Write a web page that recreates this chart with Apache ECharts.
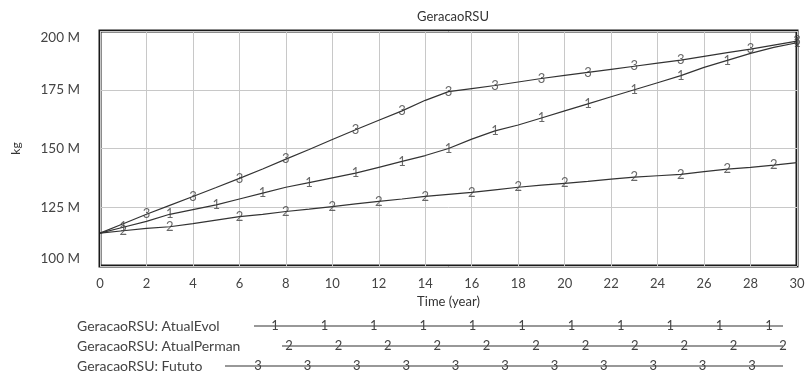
<!DOCTYPE html>
<html>
<head>
<meta charset="utf-8">
<script src="https://cdn.jsdelivr.net/npm/echarts@6/dist/echarts.min.js"></script>
<style>
  html, body { margin: 0; padding: 0; background: #fff; }
  #chart { width: 808px; height: 378px; }
</style>
</head>
<body>
<div id="chart"></div>
<script>
// years 0..30, values in millions of kg
let years = [];
for (let t = 0; t <= 30; t++) years.push(t);

let atualEvol = [114, 116.5, 119, 122, 124, 126, 128.5, 131, 133.5, 135.5, 137.5,
  139.5, 142, 144.5, 147, 150, 154, 157.5, 160, 163, 166,
  169, 172, 175, 178, 181, 184.5, 187.5, 190.5, 193, 195];
let atualPerman = [114, 115, 116, 116.7, 118, 119.5, 121, 122, 123.2, 124.2, 125.3,
  126.4, 127.5, 128.5, 129.6, 130.5, 131.3, 132.4, 133.5, 134.4, 135.2,
  136, 137, 137.8, 138.4, 139, 140.2, 141.2, 142, 142.9, 144];
let futuro = [114, 118, 122, 125.8, 129.6, 133.4, 137.3, 141.3, 145.5, 149.6, 153.8,
  158, 162, 166, 170.5, 174.2, 175.5, 176.8, 178.3, 179.8, 181.1,
  182.4, 183.7, 185, 186.3, 187.6, 189.2, 190.8, 192.3, 194, 195.7];

// years where the numbered markers sit
let evolMarks = [1, 3, 5, 7, 9, 11, 13, 15, 17, 19, 21, 23, 25, 27, 30];
let permanMarks = [1, 3, 6, 8, 10, 12, 14, 16, 18, 20, 23, 25, 27, 29];
let futuroMarks = [2, 4, 6, 8, 11, 13, 15, 17, 19, 21, 23, 25, 28, 30];

let legendNames = ['GeracaoRSU: AtualEvol', 'GeracaoRSU: AtualPerman', 'GeracaoRSU: Fututo'];

const FONT = 'Lato';
const INK = '#333';

function lineSeries(name, vals) {
  return {
    name: name,
    type: 'line',
    data: years.map((t, i) => [t, vals[i]]),
    showSymbol: false,
    symbol: 'none',
    lineStyle: { color: INK, width: 1.2 },
    z: 3
  };
}

function markSeries(name, vals, marks, digit) {
  return {
    name: name + ' marks',
    type: 'scatter',
    data: marks.map(t => [t, vals[t]]),
    symbolSize: 1,
    itemStyle: { color: 'rgba(0,0,0,0)' },
    label: {
      show: true,
      position: 'inside',
      formatter: digit,
      fontFamily: FONT,
      fontSize: 13,
      color: '#444'
    },
    silent: true,
    z: 4
  };
}

// legend rows drawn as graphics (text + line with numbered ticks)
function legendRow(text, y, lineStart, firstMark, digit) {
  let els = [{
    type: 'text',
    x: 77, y: y,
    style: { text: text, font: '14px ' + FONT, fill: '#444', align: 'left', verticalAlign: 'middle' }
  }, {
    type: 'line',
    shape: { x1: lineStart, y1: y, x2: 783, y2: y },
    style: { stroke: INK, lineWidth: 1.2 }
  }];
  for (let x = firstMark; x <= 787; x += 49.4) {
    els.push({
      type: 'text',
      x: x, y: y,
      style: { text: digit, font: '13px ' + FONT, fill: '#444', align: 'center', verticalAlign: 'middle' }
    });
  }
  return els;
}

let chart = echarts.init(document.getElementById('chart'));
let option = {
  animation: false,
  backgroundColor: '#fff',
  title: {
    text: 'GeracaoRSU',
    left: 448,
    top: 5,
    textAlign: 'center',
    textStyle: { fontFamily: FONT, fontSize: 13, fontWeight: 'normal', color: INK }
  },
  grid: {
    left: 100,
    right: 11,
    top: 31,
    bottom: 112,
    show: true,
    borderColor: '#1a1a1a',
    borderWidth: 3
  },
  xAxis: {
    type: 'value',
    min: 0,
    max: 30,
    interval: 2,
    name: 'Time (year)',
    nameLocation: 'middle',
    nameGap: 25,
    nameTextStyle: { fontFamily: FONT, fontSize: 13, color: INK },
    axisLine: { show: false },
    axisTick: { show: false },
    axisLabel: { fontFamily: FONT, fontSize: 13, color: '#444', margin: 11 },
    splitLine: { show: true, lineStyle: { color: '#c8c8c8', width: 1 } }
  },
  yAxis: {
    type: 'value',
    min: 100,
    max: 200,
    interval: 25,
    name: 'kg',
    nameLocation: 'middle',
    nameGap: 78,
    nameRotate: 90,
    nameTextStyle: { fontFamily: FONT, fontSize: 12, color: INK },
    axisLine: { show: false },
    axisTick: { show: false },
    axisLabel: {
      fontFamily: FONT, fontSize: 13.5, color: '#444', margin: 20,
      formatter: v => v + ' M',
      verticalAlignMaxLabel: 'top',
      verticalAlignMinLabel: 'bottom'
    },
    splitLine: { show: true, lineStyle: { color: '#c8c8c8', width: 1 } }
  },
  series: [
    lineSeries(legendNames[0], atualEvol),
    lineSeries(legendNames[1], atualPerman),
    lineSeries(legendNames[2], futuro),
    markSeries(legendNames[0], atualEvol, evolMarks, '1'),
    markSeries(legendNames[1], atualPerman, permanMarks, '2'),
    markSeries(legendNames[2], futuro, futuroMarks, '3')
  ],
  graphic: [].concat(
    legendRow(legendNames[0], 326, 254, 275, '1'),
    legendRow(legendNames[1], 346, 282, 289, '2'),
    legendRow(legendNames[2], 366, 225, 258, '3')
  )
};
chart.setOption(option);
</script>
</body>
</html>
